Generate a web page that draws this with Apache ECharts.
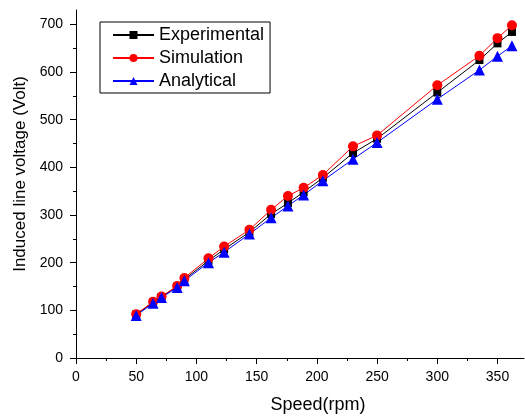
<!DOCTYPE html>
<html>
<head>
<meta charset="utf-8">
<script src="https://cdn.jsdelivr.net/npm/echarts@6/dist/echarts.min.js"></script>
<style>
  html, body { margin: 0; padding: 0; background: #fff; }
  #chart { width: 525px; height: 416px; }
</style>
</head>
<body>
<div id="chart"></div>
<script>
// Rotor speed (rpm) and induced line voltage (V) for each method
var speed = [50, 64, 71, 84, 90, 110, 123, 144, 162, 176, 189, 205, 230, 250, 300, 335, 350, 362];
var experimental = [91, 117, 128, 150, 165, 204, 228, 264, 302, 325, 348, 378, 430, 460, 557, 625, 660, 684];
var simulation = [92, 118, 129, 151, 168, 209, 234, 269, 311, 340, 357, 384, 444, 467, 572, 634, 671, 698];
var analytical = [89, 115, 127, 148, 162, 200, 222, 260, 294, 319, 342, 372, 417, 452, 543, 604, 633, 655];

var xTicks = [0, 50, 100, 150, 200, 250, 300, 350];
var xMinorTicks = [25, 75, 125, 175, 225, 275, 325];
var yTicks = [0, 100, 200, 300, 400, 500, 600, 700];
var yMinorTicks = [50, 150, 250, 350, 450, 550, 650];

var FONT = '"Liberation Sans", Arial, sans-serif';

function pairs(values) {
  return speed.map(function (s, i) { return [s, values[i]]; });
}

var chart = echarts.init(document.getElementById('chart'), null, { renderer: 'canvas' });

var axisLineStyle = { color: '#000', width: 1 };

chart.setOption({
  animation: false,
  backgroundColor: '#fff',
  grid: { left: 76, right: 1, top: 10, bottom: 58, outerBoundsMode: 'none' },
  legend: {
    left: 100,
    top: 22,
    orient: 'vertical',
    itemWidth: 41,
    itemHeight: 10,
    itemGap: 5,
    itemTextGap: 5,
    padding: [4, 6, 3, 12],
    borderColor: '#000',
    borderWidth: 1,
    textStyle: { fontFamily: FONT, fontSize: 18, color: '#000' },
    data: ['Experimental', 'Simulation', 'Analytical']
  },
  xAxis: [{
    type: 'value',
    position: 'bottom',
    min: 0,
    max: 372,
    interval: 50,
    name: 'Speed(rpm)',
    nameLocation: 'middle',
    nameGap: 38,
    nameTextStyle: { fontFamily: FONT, fontSize: 18, color: '#000', padding: [0, 0, 0, 36] },
    axisLine: { show: true, onZero: false, lineStyle: axisLineStyle },
    axisTick: { show: true, length: 6, customValues: xTicks, lineStyle: axisLineStyle },
    axisLabel: { customValues: xTicks, fontFamily: FONT, fontSize: 14, color: '#000', margin: 12 },
    splitLine: { show: false }
  }, {
    // minor ticks along the speed axis
    type: 'value',
    position: 'bottom',
    min: 0,
    max: 372,
    axisLine: { show: false, onZero: false },
    axisTick: { show: true, length: 3, customValues: xMinorTicks, lineStyle: axisLineStyle },
    axisLabel: { show: false },
    splitLine: { show: false }
  }],
  yAxis: [{
    type: 'value',
    position: 'left',
    min: 0,
    max: 730,
    interval: 100,
    name: 'Induced line voltage (Volt)',
    nameLocation: 'middle',
    nameRotate: 90,
    nameGap: 47,
    nameTextStyle: { fontFamily: FONT, fontSize: 17, color: '#000', padding: [0, 0, 0, 20] },
    axisLine: { show: true, onZero: false, lineStyle: axisLineStyle },
    axisTick: { show: true, length: 6, customValues: yTicks, lineStyle: axisLineStyle },
    axisLabel: { customValues: yTicks, fontFamily: FONT, fontSize: 14, color: '#000', margin: 13 },
    splitLine: { show: false }
  }, {
    // minor ticks along the voltage axis
    type: 'value',
    position: 'left',
    min: 0,
    max: 730,
    axisLine: { show: false, onZero: false },
    axisTick: { show: true, length: 3, customValues: yMinorTicks, lineStyle: axisLineStyle },
    axisLabel: { show: false },
    splitLine: { show: false }
  }],
  series: [{
    name: 'Experimental',
    type: 'line',
    data: pairs(experimental),
    symbol: 'rect',
    symbolSize: 8,
    color: '#000000',
    lineStyle: { width: 1, color: '#000000' },
    itemStyle: { color: '#000000' }
  }, {
    name: 'Simulation',
    type: 'line',
    data: pairs(simulation),
    symbol: 'circle',
    symbolSize: 10,
    color: '#ff0000',
    lineStyle: { width: 1, color: '#ff0000' },
    itemStyle: { color: '#ff0000' }
  }, {
    name: 'Analytical',
    type: 'line',
    data: pairs(analytical),
    symbol: 'triangle',
    symbolSize: 11,
    color: '#0000ff',
    lineStyle: { width: 1, color: '#0000ff' },
    itemStyle: { color: '#0000ff' }
  }]
});
</script>
</body>
</html>
